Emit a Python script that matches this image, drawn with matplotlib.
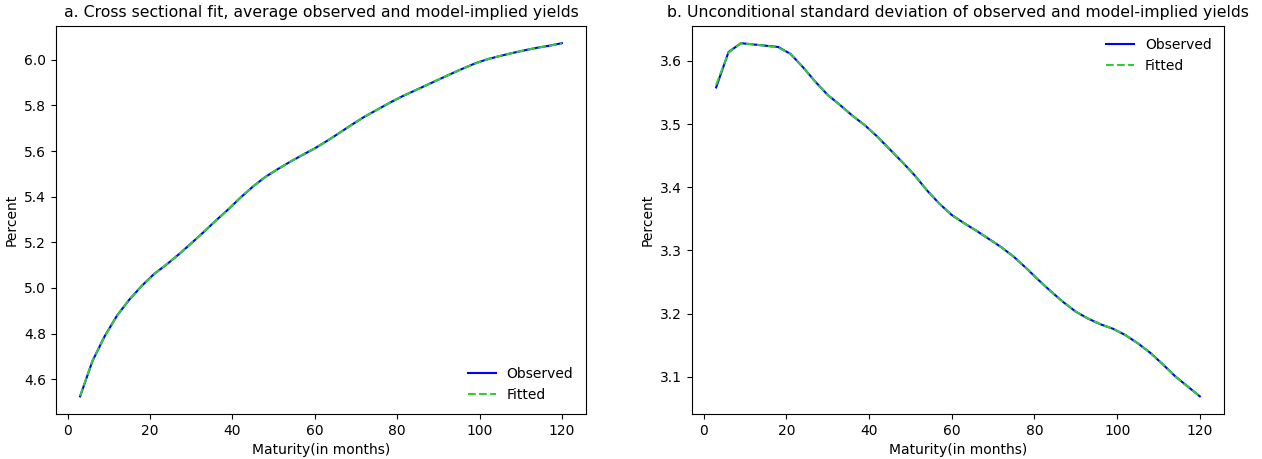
import numpy as np
import matplotlib
matplotlib.use("Agg")
import matplotlib.pyplot as plt

# maturities in months
maturities = list(range(3, 121, 3))

# panel a: average yields
mean_obs = [4.525, 4.680, 4.790, 4.880, 4.950, 5.010, 5.062, 5.103, 5.148, 5.196,
            5.245, 5.296, 5.345, 5.397, 5.445, 5.487, 5.521, 5.553, 5.583, 5.612,
            5.645, 5.680, 5.716, 5.750, 5.780, 5.810, 5.838, 5.863, 5.888, 5.913,
            5.938, 5.962, 5.985, 6.003, 6.017, 6.030, 6.042, 6.053, 6.062, 6.073]
mean_fit = [4.527, 4.681, 4.789, 4.879, 4.951, 5.009, 5.061, 5.104, 5.148, 5.195,
            5.246, 5.296, 5.344, 5.397, 5.445, 5.486, 5.521, 5.553, 5.584, 5.612,
            5.645, 5.680, 5.715, 5.750, 5.780, 5.810, 5.838, 5.863, 5.888, 5.913,
            5.938, 5.962, 5.984, 6.003, 6.017, 6.030, 6.042, 6.053, 6.062, 6.072]

# panel b: unconditional std dev
std_obs = [3.558, 3.614, 3.628, 3.626, 3.624, 3.622, 3.611, 3.590, 3.567, 3.546,
           3.530, 3.513, 3.498, 3.480, 3.460, 3.440, 3.419, 3.395, 3.374, 3.356,
           3.343, 3.331, 3.318, 3.305, 3.290, 3.272, 3.253, 3.235, 3.218, 3.203,
           3.192, 3.183, 3.176, 3.166, 3.153, 3.138, 3.120, 3.101, 3.085, 3.069]
std_fit = [3.562, 3.613, 3.628, 3.626, 3.624, 3.621, 3.611, 3.590, 3.567, 3.546,
           3.530, 3.513, 3.498, 3.480, 3.460, 3.440, 3.419, 3.395, 3.374, 3.356,
           3.343, 3.331, 3.318, 3.305, 3.290, 3.272, 3.253, 3.235, 3.218, 3.203,
           3.192, 3.183, 3.176, 3.166, 3.153, 3.138, 3.120, 3.101, 3.085, 3.069]

fig = plt.figure(figsize=(12.62, 4.59), dpi=100)
ax1 = fig.add_axes([0.0444, 0.098, 0.4199, 0.8464])
ax2 = fig.add_axes([0.5483, 0.098, 0.4216, 0.8464])

ax1.plot(maturities, mean_obs, color='blue', label='Observed')
ax1.plot(maturities, mean_fit, color='limegreen', linestyle='--', label='Fitted')
ax1.set_title("a. Cross sectional fit, average observed and model-implied yields", fontsize=11.3)
ax1.set_xlabel("Maturity(in months)")
ax1.set_ylabel("Percent")
ax1.legend(loc='lower right', frameon=False)

ax2.plot(maturities, std_obs, color='blue', label='Observed')
ax2.plot(maturities, std_fit, color='limegreen', linestyle='--', label='Fitted')
ax2.set_title("b. Unconditional standard deviation of observed and model-implied yields", fontsize=11.3)
ax2.set_xlabel("Maturity(in months)")
ax2.set_ylabel("Percent")
ax2.legend(loc='upper right', frameon=False)

fig.savefig("out.png", dpi=100)
